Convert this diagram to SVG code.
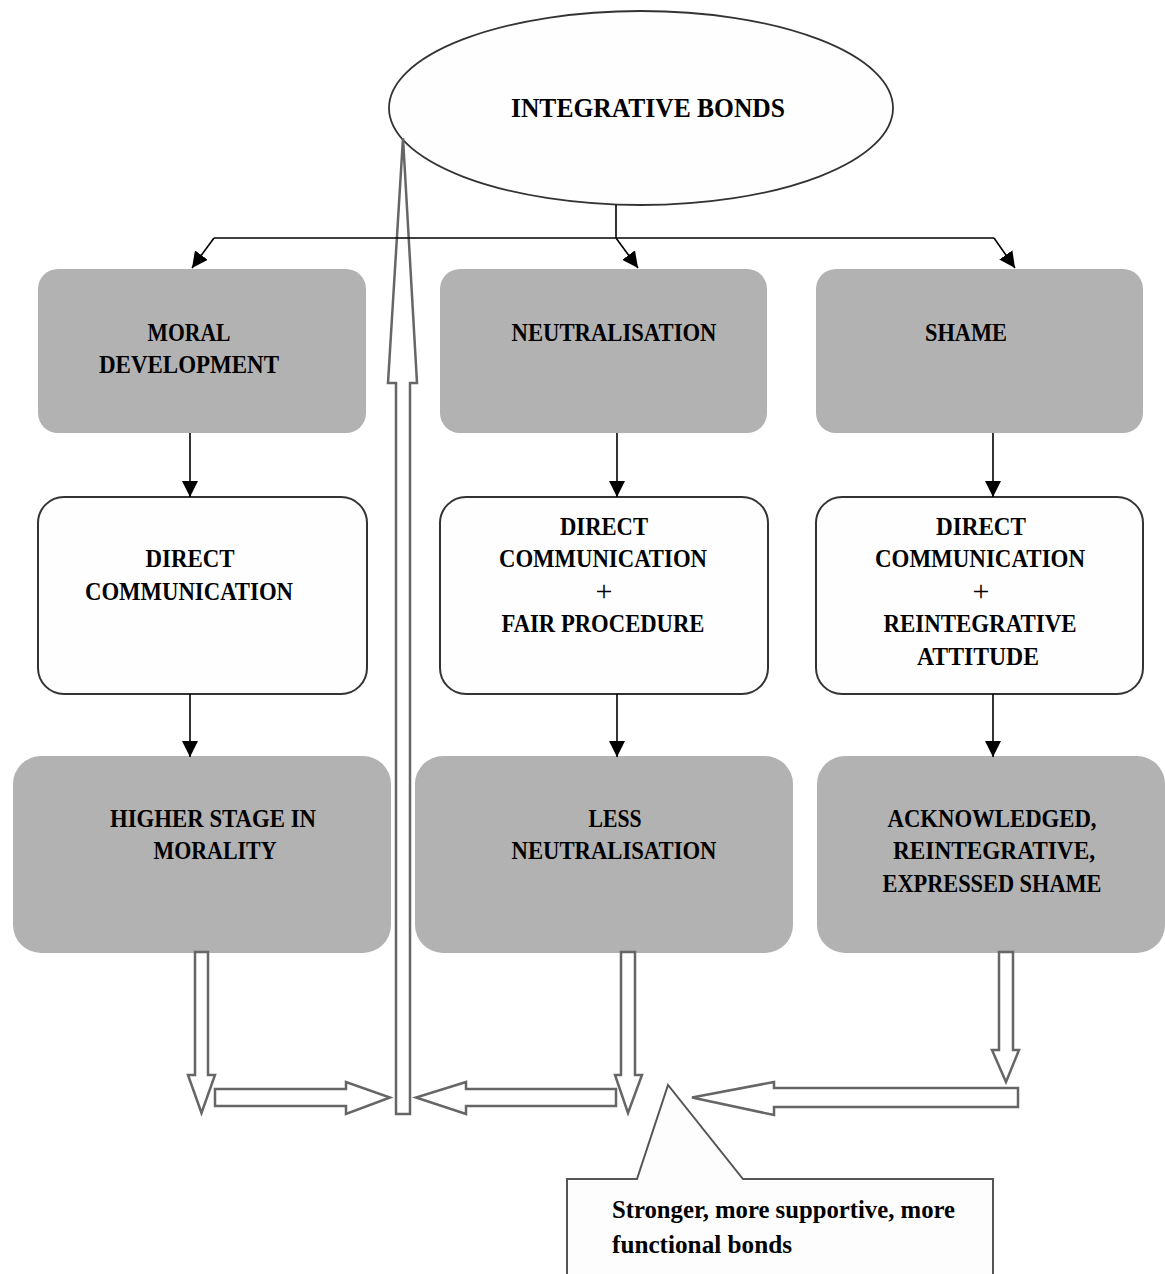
<svg xmlns="http://www.w3.org/2000/svg" width="1165" height="1274" viewBox="0 0 1165 1274">
<defs>
<style>
.t{font-family:"Liberation Serif","Times New Roman",serif;font-weight:bold;font-size:25.5px;fill:#000;text-anchor:middle}
.p{font-family:"Liberation Serif","Times New Roman",serif;font-size:30px;fill:#000;text-anchor:middle}
.g{fill:#b2b2b2;stroke:none}
.w{fill:#fefefe;stroke:#333;stroke-width:2}
.c{stroke:#000;stroke-width:1.6;fill:none}
.b{fill:#fff;stroke:#666;stroke-width:2.5;stroke-linejoin:miter}
.n{font-family:"Liberation Serif","Times New Roman",serif;font-weight:bold;font-size:25px;fill:#000}
</style>
<marker id="ah" viewBox="0 0 16 16" refX="16" refY="8" markerWidth="16" markerHeight="16" markerUnits="userSpaceOnUse" orient="auto">
<path d="M0,0 L16,8 L0,16 z" fill="#000"/>
</marker>
</defs>
<rect width="1165" height="1274" fill="#fff"/>

<g id="integrative-bonds">
<ellipse cx="641" cy="108" rx="252" ry="97" fill="#fefefe" stroke="#333" stroke-width="1.8"/>
<text class="t" x="648" y="117" style="font-size:28px" textLength="274" lengthAdjust="spacingAndGlyphs">INTEGRATIVE BONDS</text>
</g>

<g id="moral-development">
<rect class="g" x="38" y="269" width="328" height="164" rx="20"/>
<text class="t" x="189" y="341" textLength="83" lengthAdjust="spacingAndGlyphs">MORAL</text>
<text class="t" x="189" y="373" textLength="180" lengthAdjust="spacingAndGlyphs">DEVELOPMENT</text>
</g>
<g id="neutralisation">
<rect class="g" x="440" y="269" width="327" height="164" rx="20"/>
<text class="t" x="614" y="341" textLength="205" lengthAdjust="spacingAndGlyphs">NEUTRALISATION</text>
</g>
<g id="shame">
<rect class="g" x="816" y="269" width="327" height="164" rx="20"/>
<text class="t" x="966" y="341" textLength="82" lengthAdjust="spacingAndGlyphs">SHAME</text>
</g>

<g id="direct-communication-1">
<rect class="w" x="38" y="497" width="329" height="197" rx="26"/>
<text class="t" x="190" y="567" textLength="89" lengthAdjust="spacingAndGlyphs">DIRECT</text>
<text class="t" x="189" y="600" textLength="208" lengthAdjust="spacingAndGlyphs">COMMUNICATION</text>
</g>
<g id="direct-communication-2">
<rect class="w" x="440" y="497" width="328" height="197" rx="26"/>
<text class="t" x="604" y="535" textLength="88" lengthAdjust="spacingAndGlyphs">DIRECT</text>
<text class="t" x="603" y="567" textLength="208" lengthAdjust="spacingAndGlyphs">COMMUNICATION</text>
<text class="p" x="604" y="601">+</text>
<text class="t" x="603" y="632" textLength="203" lengthAdjust="spacingAndGlyphs">FAIR PROCEDURE</text>
</g>
<g id="direct-communication-3">
<rect class="w" x="816" y="497" width="327" height="197" rx="26"/>
<text class="t" x="981" y="535" textLength="90" lengthAdjust="spacingAndGlyphs">DIRECT</text>
<text class="t" x="980" y="567" textLength="210" lengthAdjust="spacingAndGlyphs">COMMUNICATION</text>
<text class="p" x="981" y="601">+</text>
<text class="t" x="980" y="632" textLength="193" lengthAdjust="spacingAndGlyphs">REINTEGRATIVE</text>
<text class="t" x="978" y="665" textLength="122" lengthAdjust="spacingAndGlyphs">ATTITUDE</text>
</g>

<g id="higher-stage">
<rect class="g" x="13" y="756" width="378" height="197" rx="28"/>
<text class="t" x="213" y="827" textLength="206" lengthAdjust="spacingAndGlyphs">HIGHER STAGE IN</text>
<text class="t" x="215" y="859" textLength="123" lengthAdjust="spacingAndGlyphs">MORALITY</text>
</g>
<g id="less-neutralisation">
<rect class="g" x="415" y="756" width="378" height="197" rx="28"/>
<text class="t" x="615" y="827" textLength="53" lengthAdjust="spacingAndGlyphs">LESS</text>
<text class="t" x="614" y="859" textLength="205" lengthAdjust="spacingAndGlyphs">NEUTRALISATION</text>
</g>
<g id="expressed-shame">
<rect class="g" x="817" y="756" width="348" height="197" rx="28"/>
<text class="t" x="992" y="827" textLength="209" lengthAdjust="spacingAndGlyphs">ACKNOWLEDGED,</text>
<text class="t" x="994" y="859" textLength="202" lengthAdjust="spacingAndGlyphs">REINTEGRATIVE,</text>
<text class="t" x="992" y="892" textLength="219" lengthAdjust="spacingAndGlyphs">EXPRESSED SHAME</text>
</g>

<g id="callout">
<polygon points="567,1280 567,1179 637,1179 668,1085 743,1179 993,1179 993,1280" fill="#fdfdfd" stroke="#555" stroke-width="2"/>
<text class="n" x="612" y="1218" textLength="343" lengthAdjust="spacingAndGlyphs">Stronger, more supportive, more</text>
<text class="n" x="612" y="1253" textLength="180" lengthAdjust="spacingAndGlyphs">functional bonds</text>
</g>

<g id="block-arrows">
<polygon class="b" points="195,952 208,952 208,1075 215,1075 201.5,1113 188,1075 195,1075"/>
<polygon class="b" points="215,1089 346,1089 346,1082 390,1097.5 346,1114 346,1106 215,1106"/>
<polygon class="b" points="396,1114 396,383 388,383 403,138 417,383 410,383 410,1114"/>
<polygon class="b" points="616,1089 466,1089 466,1082 416,1097.5 466,1114 466,1106 616,1106"/>
<polygon class="b" points="621,952 635,952 635,1075 642,1075 628,1113 615,1075 621,1075"/>
<polygon class="b" points="999,952 1013,952 1013,1050 1019,1050 1006,1082 992,1050 999,1050"/>
<polygon class="b" points="1018,1088 774,1088 774,1082 692,1097.5 774,1115 774,1107 1018,1107"/>
</g>

<g id="connectors">
<path class="c" d="M616,205 V238"/>
<path class="c" d="M214,238 H994"/>
<path class="c" d="M214,238 L192,268" marker-end="url(#ah)"/>
<path class="c" d="M616,238 L638,268" marker-end="url(#ah)"/>
<path class="c" d="M994,238 L1015,268" marker-end="url(#ah)"/>
<path class="c" d="M190,433 V497" marker-end="url(#ah)"/>
<path class="c" d="M617,433 V497" marker-end="url(#ah)"/>
<path class="c" d="M993,433 V497" marker-end="url(#ah)"/>
<path class="c" d="M190,694 V757" marker-end="url(#ah)"/>
<path class="c" d="M617,694 V757" marker-end="url(#ah)"/>
<path class="c" d="M993,694 V757" marker-end="url(#ah)"/>
</g>
</svg>
